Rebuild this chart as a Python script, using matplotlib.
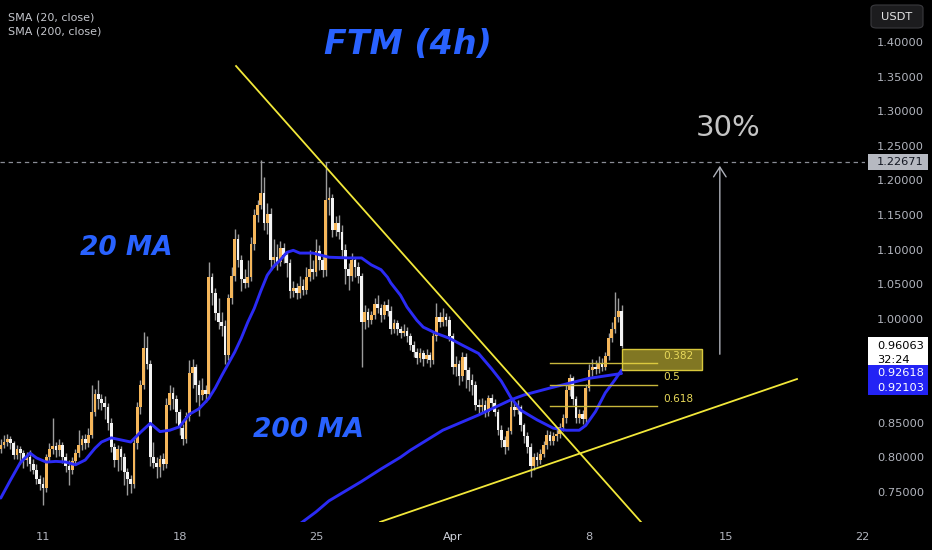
import matplotlib
matplotlib.use("Agg")
import matplotlib.pyplot as plt
import matplotlib.dates as mdates
import matplotlib.transforms as mtransforms
from matplotlib.patches import Rectangle, FancyBboxPatch
import numpy as np
import pandas as pd

# ---------------- data ----------------
start_time = "2024-03-08 20:00"
first_open = 0.812
closes = [
    0.818, 0.822, 0.826, 0.820, 0.803, 0.812, 0.806, 0.796, 0.801, 0.790,
    0.782, 0.768, 0.762, 0.756, 0.800, 0.812, 0.816, 0.810, 0.818, 0.800,
    0.788, 0.782, 0.795, 0.806, 0.818, 0.826, 0.820, 0.832, 0.866, 0.892,
    0.884, 0.878, 0.872, 0.850, 0.815, 0.796, 0.812, 0.800, 0.778, 0.768,
    0.762, 0.820, 0.872, 0.905, 0.958, 0.935, 0.800, 0.792, 0.786, 0.798,
    0.790, 0.876, 0.893, 0.884, 0.866, 0.842, 0.826, 0.860, 0.922, 0.930,
    0.905, 0.890, 0.897, 0.892, 1.060, 1.037, 1.008, 0.995, 0.990, 0.948,
    1.030, 1.062, 1.115, 1.085, 1.058, 1.052, 1.060, 1.108, 1.150, 1.165,
    1.182, 1.138, 1.152, 1.085, 1.090, 1.082, 1.102, 1.092, 1.080, 1.040,
    1.045, 1.038, 1.048, 1.042, 1.060, 1.072, 1.068, 1.098, 1.085, 1.070,
    1.172, 1.175, 1.128, 1.138, 1.125, 1.100, 1.072, 1.062, 1.085, 1.075,
    1.062, 0.995, 1.010, 0.998, 1.005, 1.022, 1.016, 1.005, 1.020, 1.012,
    0.986, 0.994, 0.985, 0.980, 0.983, 0.975, 0.962, 0.952, 0.944, 0.950,
    0.942, 0.948, 0.940, 0.975, 1.003, 0.996, 1.002, 0.998, 0.975, 0.930,
    0.935, 0.918, 0.945, 0.926, 0.912, 0.905, 0.876, 0.872, 0.876, 0.866,
    0.885, 0.878, 0.866, 0.840, 0.825, 0.815, 0.838, 0.872, 0.868, 0.872,
    0.846, 0.830, 0.815, 0.788, 0.800, 0.796, 0.805, 0.818, 0.832, 0.824,
    0.830, 0.834, 0.843, 0.856, 0.897, 0.914, 0.884, 0.856, 0.862, 0.855,
    0.900, 0.926, 0.930, 0.928, 0.934, 0.930, 0.946, 0.972, 0.986, 1.003, 1.012, 0.96063]
highs = [
    0.826, 0.832, 0.834, 0.830, 0.824, 0.818, 0.816, 0.810, 0.808, 0.810,
    0.798, 0.790, 0.775, 0.772, 0.805, 0.820, 0.857, 0.822, 0.826, 0.822,
    0.806, 0.796, 0.800, 0.812, 0.840, 0.832, 0.834, 0.842, 0.905, 0.898,
    0.912, 0.892, 0.888, 0.878, 0.856, 0.820, 0.818, 0.816, 0.806, 0.784,
    0.775, 0.826, 0.880, 0.912, 0.981, 0.975, 0.940, 0.822, 0.800, 0.803,
    0.806, 0.885, 0.905, 0.902, 0.890, 0.870, 0.848, 0.866, 0.940, 0.942,
    0.935, 0.912, 0.915, 0.905, 1.082, 1.066, 1.045, 1.030, 1.010, 0.998,
    1.036, 1.075, 1.130, 1.122, 1.092, 1.072, 1.085, 1.118, 1.158, 1.172,
    1.229, 1.205, 1.168, 1.160, 1.115, 1.108, 1.112, 1.110, 1.098, 1.086,
    1.055, 1.052, 1.062, 1.058, 1.075, 1.100, 1.085, 1.115, 1.106, 1.092,
    1.226, 1.190, 1.180, 1.148, 1.150, 1.135, 1.108, 1.080, 1.095, 1.090,
    1.082, 1.066, 1.020, 1.015, 1.012, 1.030, 1.035, 1.022, 1.026, 1.028,
    1.018, 1.000, 0.998, 0.990, 0.992, 0.988, 0.980, 0.968, 0.958, 0.958,
    0.955, 0.956, 0.952, 0.982, 1.023, 1.010, 1.015, 1.008, 1.004, 0.980,
    0.946, 0.940, 0.952, 0.950, 0.930, 0.920, 0.910, 0.884, 0.886, 0.882,
    0.890, 0.892, 0.884, 0.870, 0.846, 0.830, 0.844, 0.886, 0.880, 0.882,
    0.876, 0.850, 0.836, 0.820, 0.806, 0.808, 0.812, 0.824, 0.840, 0.838,
    0.836, 0.842, 0.850, 0.862, 0.905, 0.920, 0.918, 0.888, 0.870, 0.868,
    0.906, 0.934, 0.942, 0.940, 0.946, 0.944, 0.952, 0.980, 0.995, 1.039, 1.030, 1.020]
lows = [
    0.806, 0.814, 0.816, 0.812, 0.798, 0.797, 0.790, 0.785, 0.788, 0.780,
    0.776, 0.762, 0.752, 0.731, 0.750, 0.795, 0.805, 0.800, 0.802, 0.792,
    0.778, 0.760, 0.776, 0.790, 0.800, 0.810, 0.812, 0.815, 0.828, 0.860,
    0.870, 0.868, 0.855, 0.840, 0.808, 0.786, 0.780, 0.782, 0.760, 0.745,
    0.748, 0.756, 0.812, 0.862, 0.898, 0.928, 0.788, 0.784, 0.770, 0.772,
    0.782, 0.784, 0.868, 0.870, 0.850, 0.832, 0.818, 0.820, 0.852, 0.900,
    0.880, 0.860, 0.882, 0.880, 0.886, 1.020, 0.998, 0.985, 0.975, 0.935,
    0.940, 1.022, 1.055, 1.075, 1.040, 1.045, 1.046, 1.054, 1.100, 1.140,
    1.158, 1.128, 1.122, 1.070, 1.075, 1.070, 1.076, 1.080, 1.060, 1.030,
    1.032, 1.028, 1.030, 1.035, 1.036, 1.055, 1.058, 1.062, 1.070, 1.060,
    1.062, 1.150, 1.118, 1.120, 1.115, 1.090, 1.050, 1.042, 1.055, 1.060,
    1.052, 0.930, 0.985, 0.988, 0.992, 1.000, 1.008, 0.996, 1.000, 1.004,
    0.978, 0.980, 0.976, 0.972, 0.975, 0.966, 0.955, 0.945, 0.935, 0.938,
    0.932, 0.936, 0.930, 0.934, 0.968, 0.988, 0.990, 0.990, 0.968, 0.920,
    0.918, 0.905, 0.910, 0.900, 0.895, 0.890, 0.868, 0.862, 0.866, 0.858,
    0.860, 0.870, 0.860, 0.832, 0.815, 0.805, 0.810, 0.834, 0.860, 0.862,
    0.838, 0.820, 0.806, 0.771, 0.782, 0.788, 0.790, 0.800, 0.812, 0.818,
    0.818, 0.824, 0.828, 0.838, 0.850, 0.888, 0.876, 0.850, 0.850, 0.848,
    0.850, 0.895, 0.918, 0.920, 0.922, 0.924, 0.926, 0.940, 0.966, 0.980, 0.996, 0.958]

# SMA lines (candle index, value)
sma20_idx = [0, 3, 6, 9, 11, 14, 17, 20, 23, 26, 29, 31, 34, 37, 40, 43, 46, 49, 52, 55,
             58, 61, 64, 66, 68, 70, 72, 74, 76, 78, 80, 82, 84, 86, 88, 90, 92, 96, 101, 107,
             111, 114, 117, 119, 120, 123, 125, 128, 130, 134, 138, 142, 147, 151, 154, 157,
             160, 165, 170, 174, 178, 180, 183, 186, 189, 191]
sma20_val = [0.741, 0.767, 0.792, 0.806, 0.799, 0.793, 0.794, 0.793, 0.789, 0.796,
             0.813, 0.822, 0.828, 0.825, 0.822, 0.836, 0.849, 0.837, 0.839, 0.844,
             0.862, 0.870, 0.885, 0.900, 0.918, 0.935, 0.952, 0.972, 0.995, 1.015,
             1.040, 1.063, 1.076, 1.085, 1.096, 1.099, 1.095, 1.095, 1.089, 1.088,
             1.088, 1.078, 1.071, 1.060, 1.052, 1.034, 1.017, 0.998, 0.988, 0.979,
             0.972, 0.962, 0.950, 0.928, 0.910, 0.886, 0.868, 0.854, 0.842, 0.839,
             0.839, 0.846, 0.866, 0.893, 0.912, 0.926]
sma200_idx = [91, 97, 101, 106, 111, 117, 123, 126, 136, 147, 157, 161, 169, 175, 181, 191]
sma200_val = [0.700, 0.721, 0.737, 0.751, 0.765, 0.783, 0.800, 0.810, 0.839, 0.861,
              0.883, 0.890, 0.900, 0.907, 0.914, 0.921]

price_ticks = [0.75, 0.80, 0.85, 1.00, 1.05, 1.10, 1.15, 1.20, 1.25, 1.30, 1.35, 1.40]
date_ticks = ["2024-03-11", "2024-03-18", "2024-03-25", "2024-04-01",
              "2024-04-08", "2024-04-15", "2024-04-22"]
date_labels = ["11", "18", "25", "Apr", "8", "15", "22"]

resistance = 1.22671
last_price = 0.96063
countdown = "32:24"
sma20_last = 0.92618
sma200_last = 0.92103

trend_down_t = ["2024-03-20 21:36", "2024-04-10 16:00"]
trend_down_p = [1.3653, 0.7064]
trend_up_t = ["2024-03-28 06:48", "2024-04-18 16:00"]
trend_up_p = [0.7064, 0.913]

fib_high = 1.039
fib_low = 0.771
fib_ratios = [0.382, 0.5, 0.618]
fib_t = ["2024-04-06 00:00", "2024-04-11 12:00"]
fib_label_t = "2024-04-11 19:00"

zone_t = ["2024-04-09 16:48", "2024-04-13 19:12"]
zone_p = [0.926, 0.9564]

target_t = "2024-04-14 17:00"
target_p = [0.9448, 1.2251]
target_label = "30%"

# ---------------- styles ----------------
BG = "#000000"
UP = "#f5b65a"
DOWN = "#f4f4f4"
WICK = "#9c9c9c"
MA_BLUE = "#2b2bf5"
YELLOW = "#f2e83a"
TXT = "#b2b5be"
TITLE_BLUE = "#2962ff"

W, H = 932, 550
fig = plt.figure(figsize=(W / 100, H / 100), dpi=100, facecolor=BG)
ax_left, ax_w = 0.0, 865 / W
ax_bottom, ax_h = 1 - 522 / H, 522 / H
ax = fig.add_axes([ax_left, ax_bottom, ax_w, ax_h], facecolor=BG)

ymin, ymax = 0.7064, 1.4607
ax.set_ylim(ymin, ymax)
t0 = pd.Timestamp(start_time)
ax.set_xlim(mdates.date2num(t0 - pd.Timedelta(minutes=55)),
            mdates.date2num(pd.Timestamp("2024-04-22 03:40")))

times = pd.date_range(t0, periods=len(closes), freq="4h")
x = mdates.date2num(times)
opens = np.array([first_open] + closes[:-1])
c = np.array(closes)
hi = np.array(highs)
lo = np.array(lows)
up = c >= opens
body_w = (4 / 24) * 0.8

ax.vlines(x, lo, hi, colors=WICK, linewidth=1.0, zorder=2)
bottoms = np.minimum(opens, c)
heights = np.maximum(np.abs(c - opens), 0.0014)
ax.bar(x, heights, bottom=bottoms, width=body_w,
       color=np.where(up, UP, DOWN), linewidth=0, zorder=3)

# moving averages
ax.plot(x[np.array(sma20_idx)], sma20_val, color=MA_BLUE, lw=2.1, zorder=4,
        solid_capstyle="round", solid_joinstyle="round")
ax.plot(x[np.array(sma200_idx)], sma200_val, color=MA_BLUE, lw=2.1, zorder=4,
        solid_capstyle="round", solid_joinstyle="round")

# trend lines
ax.plot(mdates.date2num(pd.to_datetime(trend_down_t)), trend_down_p,
        color=YELLOW, lw=1.3, zorder=6)
ax.plot(mdates.date2num(pd.to_datetime(trend_up_t)), trend_up_p,
        color=YELLOW, lw=1.3, zorder=6)

# resistance dashed line
ax.axhline(resistance, color="#8a8d96", lw=0.9, dashes=(3.5, 3), zorder=1)

# fib levels
fx = mdates.date2num(pd.to_datetime(fib_t))
flx = mdates.date2num(pd.Timestamp(fib_label_t))
for r in fib_ratios:
    lvl = fib_high - r * (fib_high - fib_low)
    ax.plot(fx, [lvl, lvl], color="#c8b73c", lw=1.0, zorder=5)
    ax.annotate(f"{r:g}", xy=(flx, lvl), xytext=(0, 1.5), textcoords="offset points",
                color="#e8d95a", fontsize=7.6, ha="left", va="bottom", zorder=7)

# zone rectangle
zx = mdates.date2num(pd.to_datetime(zone_t))
ax.add_patch(Rectangle((zx[0], zone_p[0]), zx[1] - zx[0], zone_p[1] - zone_p[0],
                       facecolor=(0.93, 0.86, 0.25, 0.55), edgecolor="#d8c83c",
                       lw=1.0, zorder=5))

# target arrow
tx = mdates.date2num(pd.Timestamp(target_t))
ax.annotate("", xy=(tx, target_p[1]), xytext=(tx, target_p[0]),
            arrowprops=dict(arrowstyle="->,head_length=0.7,head_width=0.45",
                            color="#aeb1ba", lw=1.0), zorder=6)

# text annotations
ax.text(408 / 865, 1 - 44 / 522, "FTM (4h)", transform=ax.transAxes, ha="center",
        va="center", color=TITLE_BLUE, fontsize=24, fontweight="bold", fontstyle="italic")
ax.text(80 / 865, 1 - 248 / 522, "20 MA", transform=ax.transAxes, ha="left",
        va="center", color=TITLE_BLUE, fontsize=19, fontweight="bold", fontstyle="italic")
ax.text(253 / 865, 1 - 430 / 522, "200 MA", transform=ax.transAxes, ha="left",
        va="center", color=TITLE_BLUE, fontsize=19, fontweight="bold", fontstyle="italic")
ax.text(728 / 865, 1 - 128 / 522, target_label, transform=ax.transAxes, ha="center",
        va="center", color="#c4c4c4", fontsize=21)

# axes styling
for s in ax.spines.values():
    s.set_visible(False)
ax.yaxis.tick_right()
ax.set_yticks(price_ticks)
ax.set_yticklabels([f"{v:.5f}" for v in price_ticks])
ax.tick_params(axis="y", length=0, pad=8.6, labelsize=8.2, labelcolor=TXT)
ax.set_xticks(mdates.date2num(pd.to_datetime(date_ticks)))
ax.set_xticklabels(date_labels)
ax.tick_params(axis="x", length=0, pad=7, labelsize=8.2, labelcolor=TXT)
for lab in ax.get_xticklabels():
    if lab.get_text() == "Apr":
        lab.set_color("#d1d4dc")

# price tags on the right scale
ppx = (ymax - ymin) / (H * ax_h)  # price per pixel
blend = mtransforms.blended_transform_factory(ax.transAxes, ax.transData)
tag_x0, tag_x1 = 868 / 865, 928 / 865
txt_x = 877 / 865


def tag_rect(top, bottom, fc):
    ax.add_patch(Rectangle((tag_x0, bottom), tag_x1 - tag_x0, top - bottom,
                           transform=blend, facecolor=fc, edgecolor="none",
                           clip_on=False, zorder=8))


def tag_text(y, s, col):
    ax.text(txt_x, y, s, transform=blend, ha="left", va="center", color=col,
            fontsize=8.2, clip_on=False, zorder=9)


tag_rect(resistance + 8 * ppx, resistance - 8 * ppx, "#b6b9c1")
tag_text(resistance, f"{resistance:.5f}", "#131722")

w_top = last_price + 9 * ppx
w_bot = last_price - 19 * ppx
tag_rect(w_top, w_bot, "#ffffff")
tag_text(last_price, f"{last_price:.5f}", "#000000")
tag_text(last_price - 14 * ppx, countdown, "#000000")

b_top = w_bot
b_bot = b_top - 30 * ppx
tag_rect(b_top, b_bot, "#2323f5")
tag_text(b_top - 8 * ppx, f"{sma20_last:.5f}", "#ffffff")
tag_text(b_top - 23 * ppx, f"{sma200_last:.5f}", "#ffffff")

# legend text and currency box
fig.text(8 / W, 1 - 17 / H, "SMA (20, close)", color="#c3c5cb", fontsize=8, va="center")
fig.text(8 / W, 1 - 31 / H, "SMA (200, close)", color="#c3c5cb", fontsize=8, va="center")
fig.patches.append(FancyBboxPatch((871 / W, 1 - 28 / H), 52 / W, 23 / H,
                                  boxstyle="round,pad=0,rounding_size=0.006",
                                  transform=fig.transFigure, facecolor="#1c1c1e",
                                  edgecolor="#3a3a3e", lw=0.8))
fig.text(897 / W, 1 - 16.5 / H, "USDT", color="#e6e6e6", fontsize=8.2,
         ha="center", va="center")

fig.savefig("out.png", dpi=100, facecolor=BG)
